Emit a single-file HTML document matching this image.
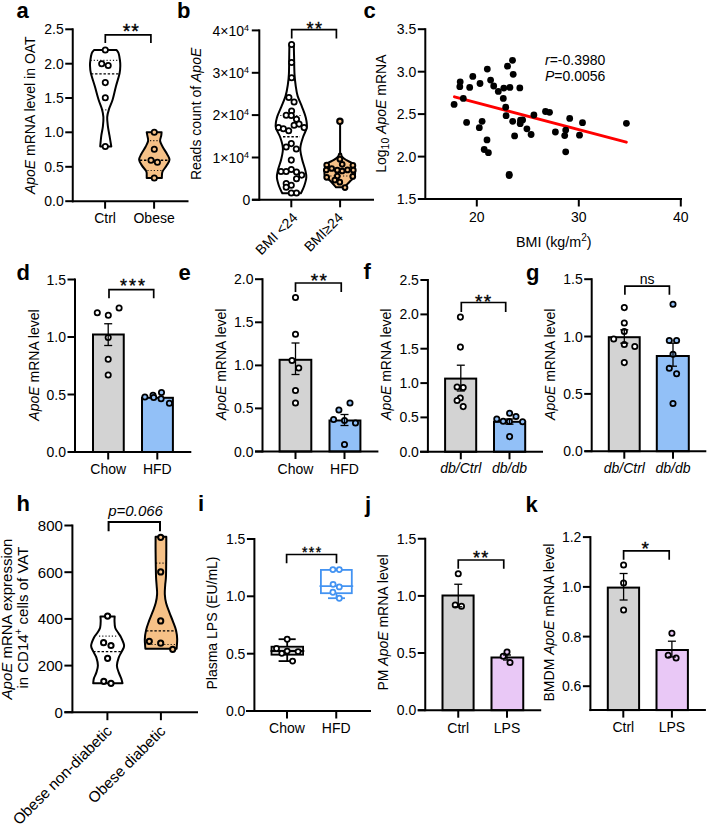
<!DOCTYPE html>
<html><head><meta charset="utf-8"><style>
html,body{margin:0;padding:0;background:#fff;overflow:hidden;width:708px;height:827px;}
svg{display:block;}
text{font-family:"Liberation Sans", sans-serif;}
</style></head><body>
<svg width="708" height="827" viewBox="0 0 708 827">
<rect width="708" height="827" fill="#fff"/>
<text x="16.5" y="17.5" font-size="22" text-anchor="start" font-weight="bold" font-style="normal" fill="#000" >a</text>
<line x1="72.75" y1="28.3" x2="72.75" y2="202.3" stroke="#000" stroke-width="2" />
<line x1="65.25" y1="29.3" x2="72.75" y2="29.3" stroke="#000" stroke-width="2" />
<text x="63.75" y="34.34" font-size="14" text-anchor="end" font-weight="normal" font-style="normal" fill="#000" >2.5</text>
<line x1="65.25" y1="63.7" x2="72.75" y2="63.7" stroke="#000" stroke-width="2" />
<text x="63.75" y="68.74" font-size="14" text-anchor="end" font-weight="normal" font-style="normal" fill="#000" >2.0</text>
<line x1="65.25" y1="98" x2="72.75" y2="98" stroke="#000" stroke-width="2" />
<text x="63.75" y="103.04" font-size="14" text-anchor="end" font-weight="normal" font-style="normal" fill="#000" >1.5</text>
<line x1="65.25" y1="132.3" x2="72.75" y2="132.3" stroke="#000" stroke-width="2" />
<text x="63.75" y="137.34" font-size="14" text-anchor="end" font-weight="normal" font-style="normal" fill="#000" >1.0</text>
<line x1="65.25" y1="166.8" x2="72.75" y2="166.8" stroke="#000" stroke-width="2" />
<text x="63.75" y="171.84" font-size="14" text-anchor="end" font-weight="normal" font-style="normal" fill="#000" >0.5</text>
<line x1="65.25" y1="201.2" x2="72.75" y2="201.2" stroke="#000" stroke-width="2" />
<text x="63.75" y="206.24" font-size="14" text-anchor="end" font-weight="normal" font-style="normal" fill="#000" >0.0</text>
<line x1="72" y1="201.2" x2="188.5" y2="201.2" stroke="#000" stroke-width="2" />
<line x1="105.1" y1="201.2" x2="105.1" y2="208.7" stroke="#000" stroke-width="2" />
<line x1="154.1" y1="201.2" x2="154.1" y2="208.7" stroke="#000" stroke-width="2" />
<text x="105.1" y="223" font-size="14" text-anchor="middle" font-weight="normal" font-style="normal" fill="#000" >Ctrl</text>
<text x="154.1" y="223" font-size="14" text-anchor="middle" font-weight="normal" font-style="normal" fill="#000" >Obese</text>
<text x="35.2" y="115.2" font-size="14" text-anchor="middle" font-weight="normal" font-style="normal" fill="#000" transform="rotate(-90 35.2 115.2)" ><tspan font-style="italic">ApoE</tspan> mRNA level in OAT</text>
<path d="M116.6,50 L94,50 C93.62,50.55 92.3,51.63 91.7,53.3 C91.1,54.97 90.68,58 90.4,60 C90.12,62 89.92,63.1 90,65.3 C90.08,67.5 90.08,69.67 90.9,73.2 C91.72,76.73 93.62,82.07 94.9,86.5 C96.18,90.93 97.43,96.03 98.6,99.8 C99.77,103.57 101.1,106.22 101.9,109.1 C102.7,111.98 103.23,114.22 103.4,117.1 C103.57,119.98 103.25,123.3 102.9,126.4 C102.55,129.5 101.75,132.37 101.3,135.7 C100.85,139.03 100.38,144.62 100.2,146.4 L111.3,146.4 C111,144.62 110.07,139.03 109.5,135.7 C108.93,132.37 108.28,129.5 107.9,126.4 C107.52,123.3 107.02,119.98 107.2,117.1 C107.38,114.22 108.1,111.98 109,109.1 C109.9,106.22 111.45,103.57 112.6,99.8 C113.75,96.03 114.73,90.93 115.9,86.5 C117.07,82.07 118.87,76.73 119.6,73.2 C120.33,69.67 120.25,67.5 120.3,65.3 C120.35,63.1 120.18,62 119.9,60 C119.62,58 119.15,54.97 118.6,53.3 C118.05,51.63 116.93,50.55 116.6,50 Z" fill="#fff" stroke="#000" stroke-width="2" stroke-linejoin="round"/>
<line x1="90.5" y1="60.3" x2="119.9" y2="60.3" stroke="#000" stroke-width="1.2" stroke-dasharray="1.2,2" opacity="0.85"/>
<line x1="90.9" y1="73.9" x2="119.6" y2="73.9" stroke="#000" stroke-width="1.4" stroke-dasharray="2.4,1.8" opacity="1"/>
<line x1="102" y1="109.8" x2="109" y2="109.8" stroke="#000" stroke-width="1.2" stroke-dasharray="1.2,2" opacity="0.85"/>
<circle cx="105.3" cy="50" r="2.65" fill="#fff" stroke="#000" stroke-width="1.75"/>
<circle cx="101.7" cy="63.7" r="2.65" fill="#fff" stroke="#000" stroke-width="1.75"/>
<circle cx="108.2" cy="65.5" r="2.65" fill="#fff" stroke="#000" stroke-width="1.75"/>
<circle cx="105.3" cy="82.6" r="2.65" fill="#fff" stroke="#000" stroke-width="1.75"/>
<circle cx="105.3" cy="97.8" r="2.65" fill="#fff" stroke="#000" stroke-width="1.75"/>
<circle cx="105.3" cy="146.4" r="2.65" fill="#fff" stroke="#000" stroke-width="1.75"/>
<path d="M161.6,132.3 L146.7,132.3 C146.82,132.9 147.17,134.45 147.4,135.9 C147.63,137.35 148.4,139.18 148.1,141 C147.8,142.82 146.73,144.63 145.6,146.8 C144.47,148.97 142.38,151.83 141.3,154 C140.22,156.17 138.98,157.87 139.1,159.8 C139.22,161.73 140.8,163.67 142,165.6 C143.2,167.53 145.52,169.7 146.3,171.4 C147.08,173.1 146.63,174.72 146.7,175.8 C146.77,176.88 146.7,177.55 146.7,177.9 L161.9,177.9 C161.9,177.55 161.78,176.88 161.9,175.8 C162.02,174.72 161.82,173.1 162.6,171.4 C163.38,169.7 165.45,167.53 166.6,165.6 C167.75,163.67 169.43,161.73 169.5,159.8 C169.57,157.87 168.15,156.17 167,154 C165.85,151.83 163.75,148.97 162.6,146.8 C161.45,144.63 160.33,142.82 160.1,141 C159.87,139.18 160.95,137.35 161.2,135.9 C161.45,134.45 161.53,132.9 161.6,132.3 Z" fill="#F6C187" stroke="#000" stroke-width="2" stroke-linejoin="round"/>
<line x1="150" y1="140.6" x2="159.4" y2="140.6" stroke="#000" stroke-width="1.2" stroke-dasharray="1.2,2" opacity="0.85"/>
<line x1="139.8" y1="160.2" x2="167.4" y2="160.2" stroke="#000" stroke-width="1.4" stroke-dasharray="2.4,1.8" opacity="1"/>
<line x1="147.4" y1="170.5" x2="161.6" y2="170.5" stroke="#000" stroke-width="1.2" stroke-dasharray="1.2,2" opacity="0.85"/>
<circle cx="154.3" cy="132.3" r="2.65" fill="#F6C187" stroke="#000" stroke-width="1.75"/>
<circle cx="154.3" cy="149.3" r="2.65" fill="#F6C187" stroke="#000" stroke-width="1.75"/>
<circle cx="151" cy="160.2" r="2.65" fill="#F6C187" stroke="#000" stroke-width="1.75"/>
<circle cx="157.4" cy="162.3" r="2.65" fill="#F6C187" stroke="#000" stroke-width="1.75"/>
<circle cx="154.3" cy="177.9" r="2.65" fill="#F6C187" stroke="#000" stroke-width="1.75"/>
<polyline points="105.3,43.1 105.3,34.9 150.9,34.9 150.9,43.1" fill="none" stroke="#000" stroke-width="1.7" stroke-linejoin="miter" />
<text x="131.3" y="38.4" font-size="19.5" text-anchor="middle" letter-spacing="1" stroke="#000" stroke-width="0.35">**</text>
<text x="177" y="17.8" font-size="22" text-anchor="start" font-weight="bold" font-style="normal" fill="#000" >b</text>
<line x1="259.3" y1="29.4" x2="259.3" y2="200.8" stroke="#000" stroke-width="2" />
<line x1="251.8" y1="30.4" x2="259.3" y2="30.4" stroke="#000" stroke-width="2" />
<line x1="251.8" y1="72.8" x2="259.3" y2="72.8" stroke="#000" stroke-width="2" />
<line x1="251.8" y1="115.1" x2="259.3" y2="115.1" stroke="#000" stroke-width="2" />
<line x1="251.8" y1="157.5" x2="259.3" y2="157.5" stroke="#000" stroke-width="2" />
<line x1="251.8" y1="199.8" x2="259.3" y2="199.8" stroke="#000" stroke-width="2" />
<text x="250.3" y="204.84" font-size="14" text-anchor="end" font-weight="normal" font-style="normal" fill="#000" >0</text>
<text x="212.5" y="35.5" font-size="14" text-anchor="start" font-weight="normal" font-style="normal" fill="#000" >4×10<tspan font-size="9" dy="-5">4</tspan></text>
<text x="212.5" y="77.9" font-size="14" text-anchor="start" font-weight="normal" font-style="normal" fill="#000" >3×10<tspan font-size="9" dy="-5">4</tspan></text>
<text x="212.5" y="120.2" font-size="14" text-anchor="start" font-weight="normal" font-style="normal" fill="#000" >2×10<tspan font-size="9" dy="-5">4</tspan></text>
<text x="212.5" y="162.6" font-size="14" text-anchor="start" font-weight="normal" font-style="normal" fill="#000" >1×10<tspan font-size="9" dy="-5">4</tspan></text>
<line x1="252" y1="199.8" x2="374" y2="199.8" stroke="#000" stroke-width="2" />
<line x1="291.3" y1="199.8" x2="291.3" y2="207.3" stroke="#000" stroke-width="2" />
<line x1="340.1" y1="199.8" x2="340.1" y2="207.3" stroke="#000" stroke-width="2" />
<text x="201.3" y="113.9" font-size="14" text-anchor="middle" font-weight="normal" font-style="normal" fill="#000" transform="rotate(-90 201.3 113.9)" >Reads count of <tspan font-style="italic">ApoE</tspan></text>
<text x="298.5" y="218.5" font-size="14" text-anchor="end" font-weight="normal" font-style="normal" fill="#000" transform="rotate(-45 298.5 218.5)" >BMI &lt;24</text>
<text x="344" y="218.5" font-size="14" text-anchor="end" font-weight="normal" font-style="normal" fill="#000" transform="rotate(-45 344 218.5)" >BMI≥24</text>
<path d="M293.8,44.5 L289.4,44.5 C289.37,46.72 289.28,52.87 289.2,57.8 C289.12,62.73 289.13,69.57 288.9,74.1 C288.67,78.63 288.35,81.37 287.8,85 C287.25,88.63 286.68,92.27 285.6,95.9 C284.52,99.53 282.75,103.17 281.3,106.8 C279.85,110.43 277.82,114.27 276.9,117.7 C275.98,121.13 275.25,124.15 275.8,127.4 C276.35,130.65 279.02,133.75 280.2,137.2 C281.38,140.65 282.72,144.47 282.9,148.1 C283.08,151.73 282.12,155.37 281.3,159 C280.48,162.63 278.73,166.82 278,169.9 C277.27,172.98 276.72,174.77 276.9,177.5 C277.08,180.23 278.2,183.67 279.1,186.3 C280,188.93 281.77,192.13 282.3,193.3 L300.9,193.3 C301.43,192.13 303.2,188.93 304.1,186.3 C305,183.67 306.12,180.23 306.3,177.5 C306.48,174.77 305.92,172.98 305.2,169.9 C304.48,166.82 302.82,162.63 302,159 C301.18,155.37 300.13,151.73 300.3,148.1 C300.47,144.47 301.92,140.65 303,137.2 C304.08,133.75 306.33,130.65 306.8,127.4 C307.27,124.15 306.6,121.13 305.8,117.7 C305,114.27 303.37,110.43 302,106.8 C300.63,103.17 298.67,99.53 297.6,95.9 C296.53,92.27 296.12,88.63 295.6,85 C295.08,81.37 294.75,78.63 294.5,74.1 C294.25,69.57 294.22,62.73 294.1,57.8 C293.98,52.87 293.85,46.72 293.8,44.5 Z" fill="#fff" stroke="#000" stroke-width="2" stroke-linejoin="round"/>
<line x1="280.2" y1="115.5" x2="302" y2="115.5" stroke="#000" stroke-width="1.2" stroke-dasharray="1.2,2" opacity="0.85"/>
<line x1="283" y1="136.7" x2="300" y2="136.7" stroke="#000" stroke-width="1.4" stroke-dasharray="2.4,1.8" opacity="1"/>
<circle cx="291.6" cy="44.5" r="2.65" fill="#fff" stroke="#000" stroke-width="1.75"/>
<circle cx="291.6" cy="62.5" r="2.65" fill="#fff" stroke="#000" stroke-width="1.75"/>
<circle cx="291.6" cy="77.7" r="2.65" fill="#fff" stroke="#000" stroke-width="1.75"/>
<circle cx="288.9" cy="97.5" r="2.65" fill="#fff" stroke="#000" stroke-width="1.75"/>
<circle cx="294.1" cy="101.9" r="2.65" fill="#fff" stroke="#000" stroke-width="1.75"/>
<circle cx="291.6" cy="110.9" r="2.65" fill="#fff" stroke="#000" stroke-width="1.75"/>
<circle cx="286.2" cy="115.3" r="2.65" fill="#fff" stroke="#000" stroke-width="1.75"/>
<circle cx="291.3" cy="115.4" r="2.65" fill="#fff" stroke="#000" stroke-width="1.75"/>
<circle cx="296.5" cy="119.3" r="2.65" fill="#fff" stroke="#000" stroke-width="1.75"/>
<circle cx="294.1" cy="125.3" r="2.65" fill="#fff" stroke="#000" stroke-width="1.75"/>
<circle cx="299.1" cy="124.1" r="2.65" fill="#fff" stroke="#000" stroke-width="1.75"/>
<circle cx="278.5" cy="127.6" r="2.65" fill="#fff" stroke="#000" stroke-width="1.75"/>
<circle cx="283.4" cy="128.7" r="2.65" fill="#fff" stroke="#000" stroke-width="1.75"/>
<circle cx="288.7" cy="130.7" r="2.65" fill="#fff" stroke="#000" stroke-width="1.75"/>
<circle cx="304.1" cy="127.6" r="2.65" fill="#fff" stroke="#000" stroke-width="1.75"/>
<circle cx="291.3" cy="143.6" r="2.65" fill="#fff" stroke="#000" stroke-width="1.75"/>
<circle cx="286.2" cy="147" r="2.65" fill="#fff" stroke="#000" stroke-width="1.75"/>
<circle cx="296.3" cy="149" r="2.65" fill="#fff" stroke="#000" stroke-width="1.75"/>
<circle cx="291.3" cy="160.1" r="2.65" fill="#fff" stroke="#000" stroke-width="1.75"/>
<circle cx="281" cy="171.5" r="2.65" fill="#fff" stroke="#000" stroke-width="1.75"/>
<circle cx="286.2" cy="171.5" r="2.65" fill="#fff" stroke="#000" stroke-width="1.75"/>
<circle cx="291.3" cy="169.4" r="2.65" fill="#fff" stroke="#000" stroke-width="1.75"/>
<circle cx="296.5" cy="171.9" r="2.65" fill="#fff" stroke="#000" stroke-width="1.75"/>
<circle cx="301.7" cy="175.1" r="2.65" fill="#fff" stroke="#000" stroke-width="1.75"/>
<circle cx="296.5" cy="178.8" r="2.65" fill="#fff" stroke="#000" stroke-width="1.75"/>
<circle cx="286.2" cy="183.5" r="2.65" fill="#fff" stroke="#000" stroke-width="1.75"/>
<circle cx="291.3" cy="185.2" r="2.65" fill="#fff" stroke="#000" stroke-width="1.75"/>
<circle cx="286.2" cy="187.3" r="2.65" fill="#fff" stroke="#000" stroke-width="1.75"/>
<circle cx="291.3" cy="193" r="2.65" fill="#fff" stroke="#000" stroke-width="1.75"/>
<circle cx="296.5" cy="193" r="2.65" fill="#fff" stroke="#000" stroke-width="1.75"/>
<line x1="340.1" y1="121" x2="340.1" y2="155" stroke="#000" stroke-width="2" />
<path d="M341.1,153.8 L339.1,153.8 C338.88,154.33 338.73,155.93 337.8,157 C336.87,158.07 335.3,159.1 333.5,160.2 C331.7,161.3 328.42,162.3 327,163.6 C325.58,164.9 325.37,165.92 325,168 C324.63,170.08 323.9,173.93 324.8,176.1 C325.7,178.27 328.53,179.13 330.4,181 C332.27,182.87 335.07,186.25 336,187.3 L344.1,187.3 C345.13,186.25 348.53,182.87 350.3,181 C352.07,179.13 353.98,178.27 354.7,176.1 C355.42,173.93 354.95,170.08 354.6,168 C354.25,165.92 353.95,164.9 352.6,163.6 C351.25,162.3 348.23,161.3 346.5,160.2 C344.77,159.1 343.1,158.07 342.2,157 C341.3,155.93 341.28,154.33 341.1,153.8 Z" fill="#F6C187" stroke="#000" stroke-width="2" stroke-linejoin="round"/>
<line x1="333" y1="169" x2="347" y2="169" stroke="#000" stroke-width="1.2" stroke-dasharray="1.2,2" opacity="0.85"/>
<line x1="327" y1="176" x2="352" y2="176" stroke="#000" stroke-width="1.2" stroke-dasharray="1.2,2" opacity="0.85"/>
<circle cx="339.9" cy="121.3" r="2.7" fill="#F6C187" stroke="#000" stroke-width="2.1"/>
<circle cx="339.9" cy="159.2" r="2.35" fill="#F6C187" stroke="#000" stroke-width="2.0"/>
<circle cx="326.7" cy="165" r="2.35" fill="#F6C187" stroke="#000" stroke-width="2.0"/>
<circle cx="342.2" cy="164.3" r="2.35" fill="#F6C187" stroke="#000" stroke-width="2.0"/>
<circle cx="352.9" cy="165.4" r="2.35" fill="#F6C187" stroke="#000" stroke-width="2.0"/>
<circle cx="326.3" cy="170" r="2.35" fill="#F6C187" stroke="#000" stroke-width="2.0"/>
<circle cx="353.3" cy="170.2" r="2.35" fill="#F6C187" stroke="#000" stroke-width="2.0"/>
<circle cx="331.7" cy="168.5" r="2.35" fill="#F6C187" stroke="#000" stroke-width="2.0"/>
<circle cx="337.3" cy="170.2" r="2.35" fill="#F6C187" stroke="#000" stroke-width="2.0"/>
<circle cx="342.2" cy="171" r="2.35" fill="#F6C187" stroke="#000" stroke-width="2.0"/>
<circle cx="347.5" cy="169.9" r="2.35" fill="#F6C187" stroke="#000" stroke-width="2.0"/>
<circle cx="326.7" cy="177.3" r="2.35" fill="#F6C187" stroke="#000" stroke-width="2.0"/>
<circle cx="337.3" cy="176.1" r="2.35" fill="#F6C187" stroke="#000" stroke-width="2.0"/>
<circle cx="334.8" cy="180.1" r="2.35" fill="#F6C187" stroke="#000" stroke-width="2.0"/>
<circle cx="339.8" cy="182.2" r="2.35" fill="#F6C187" stroke="#000" stroke-width="2.0"/>
<circle cx="352.8" cy="176.4" r="2.35" fill="#F6C187" stroke="#000" stroke-width="2.0"/>
<circle cx="345" cy="187.6" r="2.35" fill="#F6C187" stroke="#000" stroke-width="2.0"/>
<polyline points="291.7,38.4 291.7,29.6 336.4,29.6 336.4,38.4" fill="none" stroke="#000" stroke-width="1.7" stroke-linejoin="miter" />
<text x="315" y="34.5" font-size="18" text-anchor="middle" letter-spacing="1.5" stroke="#000" stroke-width="0.35">**</text>
<text x="363.5" y="17.8" font-size="22" text-anchor="start" font-weight="bold" font-style="normal" fill="#000" >c</text>
<line x1="425.3" y1="28.2" x2="425.3" y2="200" stroke="#000" stroke-width="2" />
<line x1="417.8" y1="29.2" x2="425.3" y2="29.2" stroke="#000" stroke-width="2" />
<text x="416.3" y="34.24" font-size="14" text-anchor="end" font-weight="normal" font-style="normal" fill="#000" >3.5</text>
<line x1="417.8" y1="71.7" x2="425.3" y2="71.7" stroke="#000" stroke-width="2" />
<text x="416.3" y="76.74" font-size="14" text-anchor="end" font-weight="normal" font-style="normal" fill="#000" >3.0</text>
<line x1="417.8" y1="114.1" x2="425.3" y2="114.1" stroke="#000" stroke-width="2" />
<text x="416.3" y="119.14" font-size="14" text-anchor="end" font-weight="normal" font-style="normal" fill="#000" >2.5</text>
<line x1="417.8" y1="156.6" x2="425.3" y2="156.6" stroke="#000" stroke-width="2" />
<text x="416.3" y="161.64" font-size="14" text-anchor="end" font-weight="normal" font-style="normal" fill="#000" >2.0</text>
<line x1="417.8" y1="199" x2="425.3" y2="199" stroke="#000" stroke-width="2" />
<text x="416.3" y="204.04" font-size="14" text-anchor="end" font-weight="normal" font-style="normal" fill="#000" >1.5</text>
<line x1="418" y1="199" x2="682" y2="199" stroke="#000" stroke-width="2" />
<line x1="476.8" y1="199" x2="476.8" y2="206.5" stroke="#000" stroke-width="2" />
<line x1="578.8" y1="199" x2="578.8" y2="206.5" stroke="#000" stroke-width="2" />
<line x1="680.8" y1="199" x2="680.8" y2="206.5" stroke="#000" stroke-width="2" />
<text x="476.8" y="221.8" font-size="14" text-anchor="middle" font-weight="normal" font-style="normal" fill="#000" >20</text>
<text x="578.8" y="221.8" font-size="14" text-anchor="middle" font-weight="normal" font-style="normal" fill="#000" >30</text>
<text x="680.8" y="221.8" font-size="14" text-anchor="middle" font-weight="normal" font-style="normal" fill="#000" >40</text>
<text x="516" y="246.5" font-size="14.3" text-anchor="start" font-weight="normal" font-style="normal" fill="#000" >BMI (kg/m<tspan font-size="10" dy="-6">2</tspan><tspan dy="6">)</tspan></text>
<text x="385.8" y="113.6" font-size="14" text-anchor="middle" font-weight="normal" font-style="normal" fill="#000" transform="rotate(-90 385.8 113.6)" >Log<tspan font-size="10.5" dy="3.5">10</tspan><tspan dy="-3.5"> </tspan><tspan font-style="italic">ApoE</tspan> mRNA</text>
<text x="545" y="64.5" font-size="14" text-anchor="start" font-weight="normal" font-style="normal" fill="#000" ><tspan font-style="italic">r</tspan>=-0.3980</text>
<text x="545" y="81.1" font-size="14" text-anchor="start" font-weight="normal" font-style="normal" fill="#000" ><tspan font-style="italic">P</tspan>=0.0056</text>
<line x1="454.5" y1="96.9" x2="626.3" y2="142.1" stroke="#FF0000" stroke-width="3" stroke-linecap="round"/>
<circle cx="454.1" cy="104.4" r="3.4" fill="#000"/>
<circle cx="460.2" cy="81.8" r="3.4" fill="#000"/>
<circle cx="459.8" cy="86.7" r="3.4" fill="#000"/>
<circle cx="463.3" cy="98.4" r="3.4" fill="#000"/>
<circle cx="469.7" cy="87.4" r="3.4" fill="#000"/>
<circle cx="472.8" cy="76.4" r="3.4" fill="#000"/>
<circle cx="480" cy="83.5" r="3.4" fill="#000"/>
<circle cx="487.3" cy="69.1" r="3.4" fill="#000"/>
<circle cx="490.6" cy="80.1" r="3.4" fill="#000"/>
<circle cx="493.7" cy="86" r="3.4" fill="#000"/>
<circle cx="498.3" cy="91.4" r="3.4" fill="#000"/>
<circle cx="503.8" cy="88.1" r="3.4" fill="#000"/>
<circle cx="509.9" cy="87.4" r="3.4" fill="#000"/>
<circle cx="507.5" cy="66.2" r="3.4" fill="#000"/>
<circle cx="512.5" cy="60.3" r="3.4" fill="#000"/>
<circle cx="513.2" cy="74.3" r="3.4" fill="#000"/>
<circle cx="519.8" cy="87.9" r="3.4" fill="#000"/>
<circle cx="503.3" cy="98.4" r="3.4" fill="#000"/>
<circle cx="505.7" cy="107.2" r="3.4" fill="#000"/>
<circle cx="506.1" cy="115.7" r="3.4" fill="#000"/>
<circle cx="512.7" cy="121.3" r="3.4" fill="#000"/>
<circle cx="520.5" cy="120.2" r="3.4" fill="#000"/>
<circle cx="522.6" cy="119.9" r="3.4" fill="#000"/>
<circle cx="520.2" cy="123.7" r="3.4" fill="#000"/>
<circle cx="526.9" cy="128.8" r="3.4" fill="#000"/>
<circle cx="531.1" cy="134.5" r="3.4" fill="#000"/>
<circle cx="514.6" cy="135.9" r="3.4" fill="#000"/>
<circle cx="533.9" cy="115" r="3.4" fill="#000"/>
<circle cx="466.6" cy="122.4" r="3.4" fill="#000"/>
<circle cx="482.1" cy="121.3" r="3.4" fill="#000"/>
<circle cx="479.3" cy="127.7" r="3.4" fill="#000"/>
<circle cx="487" cy="139.9" r="3.4" fill="#000"/>
<circle cx="484.2" cy="149.5" r="3.4" fill="#000"/>
<circle cx="488.4" cy="152.7" r="3.4" fill="#000"/>
<circle cx="509.2" cy="174.3" r="3.4" fill="#000"/>
<circle cx="509.2" cy="175.6" r="3.4" fill="#000"/>
<circle cx="545.5" cy="111.5" r="3.4" fill="#000"/>
<circle cx="549.5" cy="112.3" r="3.4" fill="#000"/>
<circle cx="569.7" cy="118.4" r="3.4" fill="#000"/>
<circle cx="582.5" cy="122.7" r="3.4" fill="#000"/>
<circle cx="626.4" cy="123.3" r="3.4" fill="#000"/>
<circle cx="555.4" cy="132" r="3.4" fill="#000"/>
<circle cx="565.7" cy="130.1" r="3.4" fill="#000"/>
<circle cx="564.7" cy="135.6" r="3.4" fill="#000"/>
<circle cx="579.5" cy="135.2" r="3.4" fill="#000"/>
<circle cx="565.7" cy="151.8" r="3.4" fill="#000"/>
<text x="16.5" y="280" font-size="22" text-anchor="start" font-weight="bold" font-style="normal" fill="#000" >d</text>
<line x1="75" y1="278.5" x2="75" y2="453" stroke="#000" stroke-width="2" />
<line x1="67.5" y1="279.5" x2="75" y2="279.5" stroke="#000" stroke-width="2" />
<text x="66" y="284.54" font-size="14" text-anchor="end" font-weight="normal" font-style="normal" fill="#000" >1.5</text>
<line x1="67.5" y1="337" x2="75" y2="337" stroke="#000" stroke-width="2" />
<text x="66" y="342.04" font-size="14" text-anchor="end" font-weight="normal" font-style="normal" fill="#000" >1.0</text>
<line x1="67.5" y1="394.5" x2="75" y2="394.5" stroke="#000" stroke-width="2" />
<text x="66" y="399.54" font-size="14" text-anchor="end" font-weight="normal" font-style="normal" fill="#000" >0.5</text>
<line x1="67.5" y1="452" x2="75" y2="452" stroke="#000" stroke-width="2" />
<text x="66" y="457.04" font-size="14" text-anchor="end" font-weight="normal" font-style="normal" fill="#000" >0.0</text>
<rect x="93" y="334.5" width="30.75" height="117.5" fill="#D3D3D3" stroke="#000" stroke-width="2"/>
<rect x="142" y="397.8" width="30.9" height="54.2" fill="#92C0F7" stroke="#000" stroke-width="2"/>
<line x1="68" y1="452" x2="191.3" y2="452" stroke="#000" stroke-width="2" />
<line x1="108.2" y1="452" x2="108.2" y2="459.5" stroke="#000" stroke-width="2" />
<line x1="157.3" y1="452" x2="157.3" y2="459.5" stroke="#000" stroke-width="2" />
<circle cx="97.3" cy="312.8" r="2.65" fill="#fff" stroke="#000" stroke-width="1.75"/>
<circle cx="108.3" cy="315.2" r="2.65" fill="#fff" stroke="#000" stroke-width="1.75"/>
<circle cx="119.1" cy="307.9" r="2.65" fill="#fff" stroke="#000" stroke-width="1.75"/>
<circle cx="108.2" cy="337.5" r="2.65" fill="#fff" stroke="#000" stroke-width="1.75"/>
<circle cx="108.2" cy="359.25" r="2.65" fill="#fff" stroke="#000" stroke-width="1.75"/>
<circle cx="108.2" cy="375" r="2.65" fill="#fff" stroke="#000" stroke-width="1.75"/>
<circle cx="144.9" cy="396.9" r="2.65" fill="#92C0F7" stroke="#000" stroke-width="1.75"/>
<circle cx="153" cy="395.2" r="2.65" fill="#92C0F7" stroke="#000" stroke-width="1.75"/>
<circle cx="153.7" cy="397.5" r="2.65" fill="#92C0F7" stroke="#000" stroke-width="1.75"/>
<circle cx="161.5" cy="392.4" r="2.65" fill="#92C0F7" stroke="#000" stroke-width="1.75"/>
<circle cx="161.1" cy="398.7" r="2.65" fill="#92C0F7" stroke="#000" stroke-width="1.75"/>
<circle cx="169.4" cy="403.3" r="2.65" fill="#92C0F7" stroke="#000" stroke-width="1.75"/>
<line x1="108.2" y1="323.75" x2="108.2" y2="345.5" stroke="#000" stroke-width="1.3" />
<line x1="104.2" y1="323.75" x2="112.2" y2="323.75" stroke="#000" stroke-width="1.3" />
<line x1="104.2" y1="345.5" x2="112.2" y2="345.5" stroke="#000" stroke-width="1.3" />
<polyline points="109,298.2 109,289.7 153.7,289.7 153.7,298.2" fill="none" stroke="#000" stroke-width="1.7" stroke-linejoin="miter" />
<text x="133.5" y="291.5" font-size="18" text-anchor="middle" letter-spacing="2" stroke="#000" stroke-width="0.35">***</text>
<text x="108.2" y="473.75" font-size="14" text-anchor="middle" font-weight="normal" font-style="normal" fill="#000" >Chow</text>
<text x="157.3" y="473.75" font-size="14" text-anchor="middle" font-weight="normal" font-style="normal" fill="#000" >HFD</text>
<text x="38.75" y="365" font-size="14" text-anchor="middle" font-weight="normal" font-style="normal" fill="#000" transform="rotate(-90 38.75 365)" ><tspan font-style="italic">ApoE</tspan> mRNA level</text>
<text x="178.5" y="280" font-size="22" text-anchor="start" font-weight="bold" font-style="normal" fill="#000" >e</text>
<line x1="262.5" y1="278.2" x2="262.5" y2="452.5" stroke="#000" stroke-width="2" />
<line x1="255" y1="279.2" x2="262.5" y2="279.2" stroke="#000" stroke-width="2" />
<text x="253.5" y="284.24" font-size="14" text-anchor="end" font-weight="normal" font-style="normal" fill="#000" >2.0</text>
<line x1="255" y1="322.3" x2="262.5" y2="322.3" stroke="#000" stroke-width="2" />
<text x="253.5" y="327.34" font-size="14" text-anchor="end" font-weight="normal" font-style="normal" fill="#000" >1.5</text>
<line x1="255" y1="365.4" x2="262.5" y2="365.4" stroke="#000" stroke-width="2" />
<text x="253.5" y="370.44" font-size="14" text-anchor="end" font-weight="normal" font-style="normal" fill="#000" >1.0</text>
<line x1="255" y1="408.4" x2="262.5" y2="408.4" stroke="#000" stroke-width="2" />
<text x="253.5" y="413.44" font-size="14" text-anchor="end" font-weight="normal" font-style="normal" fill="#000" >0.5</text>
<line x1="255" y1="451.5" x2="262.5" y2="451.5" stroke="#000" stroke-width="2" />
<text x="253.5" y="456.54" font-size="14" text-anchor="end" font-weight="normal" font-style="normal" fill="#000" >0.0</text>
<rect x="279.6" y="359.8" width="31.7" height="91.7" fill="#D3D3D3" stroke="#000" stroke-width="2"/>
<rect x="329.5" y="420.5" width="30.9" height="31" fill="#92C0F7" stroke="#000" stroke-width="2"/>
<line x1="255" y1="451.5" x2="378.4" y2="451.5" stroke="#000" stroke-width="2" />
<line x1="295.5" y1="451.5" x2="295.5" y2="459" stroke="#000" stroke-width="2" />
<line x1="344.5" y1="451.5" x2="344.5" y2="459" stroke="#000" stroke-width="2" />
<circle cx="295.5" cy="297.5" r="2.65" fill="#fff" stroke="#000" stroke-width="1.75"/>
<circle cx="295.5" cy="334.25" r="2.65" fill="#fff" stroke="#000" stroke-width="1.75"/>
<circle cx="292" cy="360.5" r="2.65" fill="#fff" stroke="#000" stroke-width="1.75"/>
<circle cx="298.75" cy="368" r="2.65" fill="#fff" stroke="#000" stroke-width="1.75"/>
<circle cx="295.5" cy="390.5" r="2.65" fill="#fff" stroke="#000" stroke-width="1.75"/>
<circle cx="295.5" cy="403" r="2.65" fill="#fff" stroke="#000" stroke-width="1.75"/>
<circle cx="338.9" cy="409.9" r="2.65" fill="#92C0F7" stroke="#000" stroke-width="1.75"/>
<circle cx="350" cy="403" r="2.65" fill="#92C0F7" stroke="#000" stroke-width="1.75"/>
<circle cx="333.6" cy="419.5" r="2.65" fill="#92C0F7" stroke="#000" stroke-width="1.75"/>
<circle cx="344.5" cy="420.5" r="2.65" fill="#92C0F7" stroke="#000" stroke-width="1.75"/>
<circle cx="355.5" cy="423" r="2.65" fill="#92C0F7" stroke="#000" stroke-width="1.75"/>
<circle cx="344.5" cy="444.5" r="2.65" fill="#92C0F7" stroke="#000" stroke-width="1.75"/>
<line x1="295.5" y1="343" x2="295.5" y2="374.5" stroke="#000" stroke-width="1.3" />
<line x1="291.5" y1="343" x2="299.5" y2="343" stroke="#000" stroke-width="1.3" />
<line x1="291.5" y1="374.5" x2="299.5" y2="374.5" stroke="#000" stroke-width="1.3" />
<line x1="344.5" y1="414.5" x2="344.5" y2="425.5" stroke="#000" stroke-width="1.3" />
<line x1="340.5" y1="414.5" x2="348.5" y2="414.5" stroke="#000" stroke-width="1.3" />
<line x1="340.5" y1="425.5" x2="348.5" y2="425.5" stroke="#000" stroke-width="1.3" />
<polyline points="295.5,292 295.5,283 341.25,283 341.25,292" fill="none" stroke="#000" stroke-width="1.7" stroke-linejoin="miter" />
<text x="319.4" y="287" font-size="19" text-anchor="middle" letter-spacing="1.3" stroke="#000" stroke-width="0.35">**</text>
<text x="295.5" y="473.75" font-size="14" text-anchor="middle" font-weight="normal" font-style="normal" fill="#000" >Chow</text>
<text x="344.5" y="473.75" font-size="14" text-anchor="middle" font-weight="normal" font-style="normal" fill="#000" >HFD</text>
<text x="225.6" y="364.3" font-size="14" text-anchor="middle" font-weight="normal" font-style="normal" fill="#000" transform="rotate(-90 225.6 364.3)" ><tspan font-style="italic">ApoE</tspan> mRNA level</text>
<text x="363.5" y="279.2" font-size="22" text-anchor="start" font-weight="bold" font-style="normal" fill="#000" >f</text>
<line x1="427.9" y1="279" x2="427.9" y2="452.8" stroke="#000" stroke-width="2" />
<line x1="420.4" y1="280" x2="427.9" y2="280" stroke="#000" stroke-width="2" />
<text x="418.9" y="285.04" font-size="14" text-anchor="end" font-weight="normal" font-style="normal" fill="#000" >2.5</text>
<line x1="420.4" y1="314.4" x2="427.9" y2="314.4" stroke="#000" stroke-width="2" />
<text x="418.9" y="319.44" font-size="14" text-anchor="end" font-weight="normal" font-style="normal" fill="#000" >2.0</text>
<line x1="420.4" y1="348.7" x2="427.9" y2="348.7" stroke="#000" stroke-width="2" />
<text x="418.9" y="353.74" font-size="14" text-anchor="end" font-weight="normal" font-style="normal" fill="#000" >1.5</text>
<line x1="420.4" y1="383.1" x2="427.9" y2="383.1" stroke="#000" stroke-width="2" />
<text x="418.9" y="388.14" font-size="14" text-anchor="end" font-weight="normal" font-style="normal" fill="#000" >1.0</text>
<line x1="420.4" y1="417.4" x2="427.9" y2="417.4" stroke="#000" stroke-width="2" />
<text x="418.9" y="422.44" font-size="14" text-anchor="end" font-weight="normal" font-style="normal" fill="#000" >0.5</text>
<line x1="420.4" y1="451.8" x2="427.9" y2="451.8" stroke="#000" stroke-width="2" />
<text x="418.9" y="456.84" font-size="14" text-anchor="end" font-weight="normal" font-style="normal" fill="#000" >0.0</text>
<rect x="445.1" y="378.6" width="31.1" height="73.2" fill="#D3D3D3" stroke="#000" stroke-width="2"/>
<rect x="494" y="421.8" width="31.2" height="30" fill="#92C0F7" stroke="#000" stroke-width="2"/>
<line x1="420" y1="451.8" x2="543" y2="451.8" stroke="#000" stroke-width="2" />
<line x1="460.8" y1="451.8" x2="460.8" y2="459.3" stroke="#000" stroke-width="2" />
<line x1="509.5" y1="451.8" x2="509.5" y2="459.3" stroke="#000" stroke-width="2" />
<circle cx="460.4" cy="317.1" r="2.65" fill="#fff" stroke="#000" stroke-width="1.75"/>
<circle cx="460.4" cy="347.1" r="2.65" fill="#fff" stroke="#000" stroke-width="1.75"/>
<circle cx="457.1" cy="387" r="2.65" fill="#fff" stroke="#000" stroke-width="1.75"/>
<circle cx="463.2" cy="387.5" r="2.65" fill="#fff" stroke="#000" stroke-width="1.75"/>
<circle cx="460.3" cy="397.9" r="2.65" fill="#fff" stroke="#000" stroke-width="1.75"/>
<circle cx="457.1" cy="400.4" r="2.65" fill="#fff" stroke="#000" stroke-width="1.75"/>
<circle cx="463.2" cy="406.6" r="2.65" fill="#fff" stroke="#000" stroke-width="1.75"/>
<circle cx="496.8" cy="419" r="2.65" fill="#92C0F7" stroke="#000" stroke-width="1.75"/>
<circle cx="503.2" cy="421.3" r="2.65" fill="#92C0F7" stroke="#000" stroke-width="1.75"/>
<circle cx="509.6" cy="413.3" r="2.65" fill="#92C0F7" stroke="#000" stroke-width="1.75"/>
<circle cx="516" cy="416.5" r="2.65" fill="#92C0F7" stroke="#000" stroke-width="1.75"/>
<circle cx="522.6" cy="421.8" r="2.65" fill="#92C0F7" stroke="#000" stroke-width="1.75"/>
<circle cx="509.4" cy="421.4" r="2.65" fill="#92C0F7" stroke="#000" stroke-width="1.75"/>
<circle cx="509.6" cy="436.6" r="2.65" fill="#92C0F7" stroke="#000" stroke-width="1.75"/>
<line x1="460.8" y1="365.2" x2="460.8" y2="391" stroke="#000" stroke-width="1.3" />
<line x1="456.8" y1="365.2" x2="464.8" y2="365.2" stroke="#000" stroke-width="1.3" />
<line x1="456.8" y1="391" x2="464.8" y2="391" stroke="#000" stroke-width="1.3" />
<line x1="509.5" y1="419" x2="509.5" y2="424.2" stroke="#000" stroke-width="1.3" />
<line x1="505.5" y1="419" x2="513.5" y2="419" stroke="#000" stroke-width="1.3" />
<line x1="505.5" y1="424.2" x2="513.5" y2="424.2" stroke="#000" stroke-width="1.3" />
<polyline points="461.3,311.9 461.3,302.5 505.7,302.5 505.7,311.9" fill="none" stroke="#000" stroke-width="1.7" stroke-linejoin="miter" />
<text x="483.7" y="308.1" font-size="19" text-anchor="middle" letter-spacing="1.3" stroke="#000" stroke-width="0.35">**</text>
<text x="460.8" y="473" font-size="14" text-anchor="middle" font-weight="normal" font-style="italic" fill="#000" >db/Ctrl</text>
<text x="509.5" y="473" font-size="14" text-anchor="middle" font-weight="normal" font-style="italic" fill="#000" >db/db</text>
<text x="390.6" y="364.3" font-size="14" text-anchor="middle" font-weight="normal" font-style="normal" fill="#000" transform="rotate(-90 390.6 364.3)" ><tspan font-style="italic">ApoE</tspan> mRNA level</text>
<text x="526" y="280" font-size="22" text-anchor="start" font-weight="bold" font-style="normal" fill="#000" >g</text>
<line x1="591.7" y1="278.2" x2="591.7" y2="452.2" stroke="#000" stroke-width="2" />
<line x1="584.2" y1="279.2" x2="591.7" y2="279.2" stroke="#000" stroke-width="2" />
<text x="582.7" y="284.24" font-size="14" text-anchor="end" font-weight="normal" font-style="normal" fill="#000" >1.5</text>
<line x1="584.2" y1="336.5" x2="591.7" y2="336.5" stroke="#000" stroke-width="2" />
<text x="582.7" y="341.54" font-size="14" text-anchor="end" font-weight="normal" font-style="normal" fill="#000" >1.0</text>
<line x1="584.2" y1="393.9" x2="591.7" y2="393.9" stroke="#000" stroke-width="2" />
<text x="582.7" y="398.94" font-size="14" text-anchor="end" font-weight="normal" font-style="normal" fill="#000" >0.5</text>
<line x1="584.2" y1="451.2" x2="591.7" y2="451.2" stroke="#000" stroke-width="2" />
<text x="582.7" y="456.24" font-size="14" text-anchor="end" font-weight="normal" font-style="normal" fill="#000" >0.0</text>
<rect x="608.8" y="337.2" width="30.9" height="114" fill="#D3D3D3" stroke="#000" stroke-width="2"/>
<rect x="656.8" y="356" width="32" height="95.2" fill="#92C0F7" stroke="#000" stroke-width="2"/>
<line x1="584.5" y1="451.2" x2="706.3" y2="451.2" stroke="#000" stroke-width="2" />
<line x1="624.3" y1="451.2" x2="624.3" y2="458.7" stroke="#000" stroke-width="2" />
<line x1="673" y1="451.2" x2="673" y2="458.7" stroke="#000" stroke-width="2" />
<circle cx="624.3" cy="307.6" r="2.65" fill="#fff" stroke="#000" stroke-width="1.75"/>
<circle cx="624.3" cy="322.9" r="2.65" fill="#fff" stroke="#000" stroke-width="1.75"/>
<circle cx="624.3" cy="331.5" r="2.65" fill="#fff" stroke="#000" stroke-width="1.75"/>
<circle cx="613.7" cy="339" r="2.65" fill="#fff" stroke="#000" stroke-width="1.75"/>
<circle cx="624.3" cy="344.5" r="2.65" fill="#fff" stroke="#000" stroke-width="1.75"/>
<circle cx="634.8" cy="346.5" r="2.65" fill="#fff" stroke="#000" stroke-width="1.75"/>
<circle cx="624.3" cy="362.6" r="2.65" fill="#fff" stroke="#000" stroke-width="1.75"/>
<circle cx="673" cy="304.2" r="2.65" fill="#92C0F7" stroke="#000" stroke-width="1.75"/>
<circle cx="669.3" cy="340.4" r="2.65" fill="#92C0F7" stroke="#000" stroke-width="1.75"/>
<circle cx="676.6" cy="340.4" r="2.65" fill="#92C0F7" stroke="#000" stroke-width="1.75"/>
<circle cx="673" cy="354.3" r="2.65" fill="#92C0F7" stroke="#000" stroke-width="1.75"/>
<circle cx="669.3" cy="368.2" r="2.65" fill="#92C0F7" stroke="#000" stroke-width="1.75"/>
<circle cx="676.6" cy="373.7" r="2.65" fill="#92C0F7" stroke="#000" stroke-width="1.75"/>
<circle cx="673" cy="403.5" r="2.65" fill="#92C0F7" stroke="#000" stroke-width="1.75"/>
<line x1="624.3" y1="329.8" x2="624.3" y2="343.2" stroke="#000" stroke-width="1.3" />
<line x1="620.3" y1="329.8" x2="628.3" y2="329.8" stroke="#000" stroke-width="1.3" />
<line x1="620.3" y1="343.2" x2="628.3" y2="343.2" stroke="#000" stroke-width="1.3" />
<line x1="673" y1="343.2" x2="673" y2="366.2" stroke="#000" stroke-width="1.3" />
<line x1="669" y1="343.2" x2="677" y2="343.2" stroke="#000" stroke-width="1.3" />
<line x1="669" y1="366.2" x2="677" y2="366.2" stroke="#000" stroke-width="1.3" />
<polyline points="624.9,294.7 624.9,286.1 669.4,286.1 669.4,294.7" fill="none" stroke="#000" stroke-width="1.7" stroke-linejoin="miter" />
<text x="647.2" y="283.8" font-size="14" text-anchor="middle" font-weight="normal" font-style="normal" fill="#000" >ns</text>
<text x="624.3" y="472.5" font-size="14" text-anchor="middle" font-weight="normal" font-style="italic" fill="#000" >db/Ctrl</text>
<text x="673" y="472.5" font-size="14" text-anchor="middle" font-weight="normal" font-style="italic" fill="#000" >db/db</text>
<text x="554.8" y="364.3" font-size="14" text-anchor="middle" font-weight="normal" font-style="normal" fill="#000" transform="rotate(-90 554.8 364.3)" ><tspan font-style="italic">ApoE</tspan> mRNA level</text>
<text x="16.5" y="511.2" font-size="22" text-anchor="start" font-weight="bold" font-style="normal" fill="#000" >h</text>
<line x1="72.4" y1="524.5" x2="72.4" y2="713.2" stroke="#000" stroke-width="2" />
<line x1="64.4" y1="525.5" x2="72.4" y2="525.5" stroke="#000" stroke-width="2" />
<text x="62.9" y="530.9" font-size="15" text-anchor="end" font-weight="normal" font-style="normal" fill="#000" >800</text>
<line x1="64.4" y1="572.2" x2="72.4" y2="572.2" stroke="#000" stroke-width="2" />
<text x="62.9" y="577.6" font-size="15" text-anchor="end" font-weight="normal" font-style="normal" fill="#000" >600</text>
<line x1="64.4" y1="618.9" x2="72.4" y2="618.9" stroke="#000" stroke-width="2" />
<text x="62.9" y="624.3" font-size="15" text-anchor="end" font-weight="normal" font-style="normal" fill="#000" >400</text>
<line x1="64.4" y1="665.6" x2="72.4" y2="665.6" stroke="#000" stroke-width="2" />
<text x="62.9" y="671" font-size="15" text-anchor="end" font-weight="normal" font-style="normal" fill="#000" >200</text>
<line x1="64.4" y1="712.2" x2="72.4" y2="712.2" stroke="#000" stroke-width="2" />
<text x="62.9" y="717.6" font-size="15" text-anchor="end" font-weight="normal" font-style="normal" fill="#000" >0</text>
<line x1="64.4" y1="712.2" x2="198" y2="712.2" stroke="#000" stroke-width="2" />
<line x1="107.4" y1="712.2" x2="107.4" y2="720.2" stroke="#000" stroke-width="2" />
<line x1="160.9" y1="712.2" x2="160.9" y2="720.2" stroke="#000" stroke-width="2" />
<path d="M114.7,616.4 L100.4,616.4 C100.45,617.15 100.75,619 100.7,620.9 C100.65,622.8 100.65,625.82 100.1,627.8 C99.55,629.78 98.43,631.15 97.4,632.8 C96.37,634.45 94.95,635.55 93.9,637.7 C92.85,639.85 91.18,643.38 91.1,645.7 C91.02,648.02 92.52,649.62 93.4,651.6 C94.28,653.58 95.65,655.28 96.4,657.6 C97.15,659.92 97.9,663.03 97.9,665.5 C97.9,667.97 97.07,670.25 96.4,672.4 C95.73,674.55 94.43,676.58 93.9,678.4 C93.37,680.22 93.32,682.48 93.2,683.3 L122.5,683.3 C122.28,682.48 121.83,680.22 121.2,678.4 C120.57,676.58 119.42,674.55 118.7,672.4 C117.98,670.25 116.9,667.97 116.9,665.5 C116.9,663.03 117.9,659.92 118.7,657.6 C119.5,655.28 120.8,653.58 121.7,651.6 C122.6,649.62 124.18,648.02 124.1,645.7 C124.02,643.38 122.18,639.85 121.2,637.7 C120.22,635.55 119.2,634.45 118.2,632.8 C117.2,631.15 115.82,629.78 115.2,627.8 C114.58,625.82 114.58,622.8 114.5,620.9 C114.42,619 114.67,617.15 114.7,616.4 Z" fill="#fff" stroke="#000" stroke-width="2" stroke-linejoin="round"/>
<line x1="99" y1="636.2" x2="117.7" y2="636.2" stroke="#000" stroke-width="1.2" stroke-dasharray="1.2,2" opacity="0.85"/>
<line x1="93.2" y1="651.6" x2="122" y2="651.6" stroke="#000" stroke-width="1.4" stroke-dasharray="2.4,1.8" opacity="1"/>
<circle cx="107.6" cy="616.1" r="2.6" fill="#fff" stroke="#000" stroke-width="2"/>
<circle cx="103.6" cy="642.7" r="2.6" fill="#fff" stroke="#000" stroke-width="2"/>
<circle cx="111" cy="645.5" r="2.6" fill="#fff" stroke="#000" stroke-width="2"/>
<circle cx="107.6" cy="658.3" r="2.6" fill="#fff" stroke="#000" stroke-width="2"/>
<circle cx="103.8" cy="681.3" r="2.6" fill="#fff" stroke="#000" stroke-width="2"/>
<circle cx="111" cy="683.3" r="2.6" fill="#fff" stroke="#000" stroke-width="2"/>
<path d="M166.3,536.8 L155.6,536.8 C155.6,539.32 155.53,545.38 155.6,551.9 C155.67,558.42 155.83,570.38 156,575.9 C156.17,581.42 156.42,581.97 156.6,585 C156.78,588.03 157.25,591.08 157.1,594.1 C156.95,597.12 156.47,600.08 155.7,603.1 C154.93,606.12 153.63,609.17 152.5,612.2 C151.37,615.23 149.98,618.27 148.9,621.3 C147.82,624.33 146.68,627.38 146,630.4 C145.32,633.42 144.9,636.33 144.8,639.4 C144.7,642.47 145.3,647.23 145.4,648.8 L176.6,648.8 C176.7,647.23 177.28,642.47 177.2,639.4 C177.12,636.33 176.82,633.42 176.1,630.4 C175.38,627.38 174.03,624.33 172.9,621.3 C171.77,618.27 170.43,615.23 169.3,612.2 C168.17,609.17 166.85,606.12 166.1,603.1 C165.35,600.08 164.95,597.12 164.8,594.1 C164.65,591.08 165,588.03 165.2,585 C165.4,581.97 165.82,581.42 166,575.9 C166.18,570.38 166.25,558.42 166.3,551.9 C166.35,545.38 166.3,539.32 166.3,536.8 Z" fill="#F6C187" stroke="#000" stroke-width="2" stroke-linejoin="round"/>
<line x1="156" y1="563.1" x2="166" y2="563.1" stroke="#000" stroke-width="1.2" stroke-dasharray="1.2,2" opacity="0.85"/>
<line x1="146" y1="630.9" x2="177" y2="630.9" stroke="#000" stroke-width="1.4" stroke-dasharray="2.4,1.8" opacity="1"/>
<line x1="145" y1="644.5" x2="177" y2="644.5" stroke="#000" stroke-width="1.2" stroke-dasharray="1.2,2" opacity="0.85"/>
<circle cx="160.7" cy="537.3" r="2.6" fill="#F6C187" stroke="#000" stroke-width="2"/>
<circle cx="160.7" cy="571.9" r="2.6" fill="#F6C187" stroke="#000" stroke-width="2"/>
<circle cx="160.7" cy="620.9" r="2.6" fill="#F6C187" stroke="#000" stroke-width="2"/>
<circle cx="149.3" cy="641.3" r="2.6" fill="#F6C187" stroke="#000" stroke-width="2"/>
<circle cx="160.7" cy="643.2" r="2.6" fill="#F6C187" stroke="#000" stroke-width="2"/>
<circle cx="172.7" cy="649.3" r="2.6" fill="#F6C187" stroke="#000" stroke-width="2"/>
<polyline points="108.6,531.25 108.6,522 160,522 160,531.25" fill="none" stroke="#000" stroke-width="2" stroke-linejoin="miter" />
<text x="135.6" y="516.25" font-size="15" text-anchor="middle" font-weight="normal" font-style="italic" fill="#000" >p=0.066</text>
<text x="11.8" y="619" font-size="15" text-anchor="middle" font-weight="normal" font-style="normal" fill="#000" transform="rotate(-90 11.8 619)" ><tspan font-style="italic">ApoE</tspan> mRNA expression</text>
<text x="28.3" y="617.6" font-size="15" text-anchor="middle" font-weight="normal" font-style="normal" fill="#000" transform="rotate(-90 28.3 617.6)" >in CD14<tspan font-size="10" dy="-6">+</tspan><tspan dy="6"> cells of VAT</tspan></text>
<text x="113" y="732" font-size="15.3" text-anchor="end" font-weight="normal" font-style="normal" fill="#000" transform="rotate(-45 113 732)" >Obese non-diabetic</text>
<text x="166.5" y="732" font-size="15.3" text-anchor="end" font-weight="normal" font-style="normal" fill="#000" transform="rotate(-45 166.5 732)" >Obese diabetic</text>
<text x="198" y="511.2" font-size="22" text-anchor="start" font-weight="bold" font-style="normal" fill="#000" >i</text>
<line x1="254.4" y1="538" x2="254.4" y2="712" stroke="#000" stroke-width="2" />
<line x1="246.9" y1="539" x2="254.4" y2="539" stroke="#000" stroke-width="2" />
<text x="245.4" y="544.04" font-size="14" text-anchor="end" font-weight="normal" font-style="normal" fill="#000" >1.5</text>
<line x1="246.9" y1="596.3" x2="254.4" y2="596.3" stroke="#000" stroke-width="2" />
<text x="245.4" y="601.34" font-size="14" text-anchor="end" font-weight="normal" font-style="normal" fill="#000" >1.0</text>
<line x1="246.9" y1="653.7" x2="254.4" y2="653.7" stroke="#000" stroke-width="2" />
<text x="245.4" y="658.74" font-size="14" text-anchor="end" font-weight="normal" font-style="normal" fill="#000" >0.5</text>
<line x1="246.9" y1="711" x2="254.4" y2="711" stroke="#000" stroke-width="2" />
<text x="245.4" y="716.04" font-size="14" text-anchor="end" font-weight="normal" font-style="normal" fill="#000" >0.0</text>
<line x1="246" y1="711" x2="371" y2="711" stroke="#000" stroke-width="2" />
<line x1="287" y1="711" x2="287" y2="718.5" stroke="#000" stroke-width="2" />
<line x1="336.25" y1="711" x2="336.25" y2="718.5" stroke="#000" stroke-width="2" />
<line x1="287.2" y1="639.2" x2="287.2" y2="661.1" stroke="#000" stroke-width="1.8" />
<line x1="278.6" y1="639.2" x2="295.7" y2="639.2" stroke="#000" stroke-width="1.8" />
<line x1="278.6" y1="661.1" x2="295.7" y2="661.1" stroke="#000" stroke-width="1.8" />
<rect x="271.5" y="646.7" width="31.6" height="8" fill="#D3D3D3" stroke="#000" stroke-width="1.8"/>
<line x1="270.5" y1="651" x2="304.3" y2="651" stroke="#000" stroke-width="1.8" />
<circle cx="287.2" cy="639.2" r="2.55" fill="#fff" stroke="#000" stroke-width="1.75"/>
<circle cx="276.5" cy="648.5" r="2.55" fill="#fff" stroke="#000" stroke-width="1.75"/>
<circle cx="287.2" cy="651.1" r="2.55" fill="#fff" stroke="#000" stroke-width="1.75"/>
<circle cx="281.8" cy="653.3" r="2.55" fill="#fff" stroke="#000" stroke-width="1.75"/>
<circle cx="298.1" cy="651.6" r="2.55" fill="#fff" stroke="#000" stroke-width="1.75"/>
<circle cx="292.6" cy="661.1" r="2.55" fill="#fff" stroke="#000" stroke-width="1.75"/>
<line x1="336.5" y1="593.2" x2="336.5" y2="598.2" stroke="#4393F2" stroke-width="1.8" />
<line x1="328" y1="598.2" x2="345" y2="598.2" stroke="#4393F2" stroke-width="1.8" />
<rect x="320.9" y="569.9" width="30.9" height="23.3" fill="none" stroke="#4393F2" stroke-width="1.8"/>
<line x1="319.5" y1="586.1" x2="353.2" y2="586.1" stroke="#4393F2" stroke-width="1.8" />
<circle cx="332.9" cy="569.6" r="2.55" fill="#fff" stroke="#4393F2" stroke-width="1.75"/>
<circle cx="339.3" cy="569.6" r="2.55" fill="#fff" stroke="#4393F2" stroke-width="1.75"/>
<circle cx="333.1" cy="584.3" r="2.55" fill="#fff" stroke="#4393F2" stroke-width="1.75"/>
<circle cx="339.3" cy="586.9" r="2.55" fill="#fff" stroke="#4393F2" stroke-width="1.75"/>
<circle cx="332.9" cy="592.2" r="2.55" fill="#fff" stroke="#4393F2" stroke-width="1.75"/>
<circle cx="339.3" cy="598.2" r="2.55" fill="#fff" stroke="#4393F2" stroke-width="1.75"/>
<polyline points="286.6,563.2 286.6,554.5 336.5,554.5 336.5,563.2" fill="none" stroke="#000" stroke-width="1.7" stroke-linejoin="miter" />
<text x="312.3" y="556.7" font-size="14" text-anchor="middle" letter-spacing="1.4" stroke="#000" stroke-width="0.35">***</text>
<text x="287" y="733" font-size="14" text-anchor="middle" font-weight="normal" font-style="normal" fill="#000" >Chow</text>
<text x="336.25" y="733" font-size="14" text-anchor="middle" font-weight="normal" font-style="normal" fill="#000" >HFD</text>
<text x="217" y="623" font-size="14" text-anchor="middle" font-weight="normal" font-style="normal" fill="#000" transform="rotate(-90 217 623)" >Plasma LPS (EU/mL)</text>
<text x="365" y="511.6" font-size="22" text-anchor="start" font-weight="bold" font-style="normal" fill="#000" >j</text>
<line x1="425.25" y1="537.75" x2="425.25" y2="711.2" stroke="#000" stroke-width="2" />
<line x1="417.75" y1="538.75" x2="425.25" y2="538.75" stroke="#000" stroke-width="2" />
<text x="416.25" y="543.79" font-size="14" text-anchor="end" font-weight="normal" font-style="normal" fill="#000" >1.5</text>
<line x1="417.75" y1="595.9" x2="425.25" y2="595.9" stroke="#000" stroke-width="2" />
<text x="416.25" y="600.94" font-size="14" text-anchor="end" font-weight="normal" font-style="normal" fill="#000" >1.0</text>
<line x1="417.75" y1="653" x2="425.25" y2="653" stroke="#000" stroke-width="2" />
<text x="416.25" y="658.04" font-size="14" text-anchor="end" font-weight="normal" font-style="normal" fill="#000" >0.5</text>
<line x1="417.75" y1="710.2" x2="425.25" y2="710.2" stroke="#000" stroke-width="2" />
<text x="416.25" y="715.24" font-size="14" text-anchor="end" font-weight="normal" font-style="normal" fill="#000" >0.0</text>
<rect x="442.5" y="595.5" width="31.1" height="114.7" fill="#D3D3D3" stroke="#000" stroke-width="2"/>
<rect x="491.5" y="657.5" width="31.75" height="52.7" fill="#E9C8F6" stroke="#000" stroke-width="2"/>
<line x1="417.75" y1="710.2" x2="541.2" y2="710.2" stroke="#000" stroke-width="2" />
<line x1="458.25" y1="710.2" x2="458.25" y2="717.7" stroke="#000" stroke-width="2" />
<line x1="507" y1="710.2" x2="507" y2="717.7" stroke="#000" stroke-width="2" />
<circle cx="458.25" cy="573.75" r="2.65" fill="#fff" stroke="#000" stroke-width="1.75"/>
<circle cx="455.25" cy="605" r="2.65" fill="#fff" stroke="#000" stroke-width="1.75"/>
<circle cx="461.5" cy="606.25" r="2.65" fill="#fff" stroke="#000" stroke-width="1.75"/>
<circle cx="507" cy="652" r="2.65" fill="#E9C8F6" stroke="#000" stroke-width="1.75"/>
<circle cx="503.25" cy="656.25" r="2.65" fill="#E9C8F6" stroke="#000" stroke-width="1.75"/>
<circle cx="510" cy="662.5" r="2.65" fill="#E9C8F6" stroke="#000" stroke-width="1.75"/>
<line x1="458.25" y1="584.25" x2="458.25" y2="606.75" stroke="#000" stroke-width="1.3" />
<line x1="454.25" y1="584.25" x2="462.25" y2="584.25" stroke="#000" stroke-width="1.3" />
<line x1="454.25" y1="606.75" x2="462.25" y2="606.75" stroke="#000" stroke-width="1.3" />
<line x1="507" y1="655" x2="507" y2="660" stroke="#000" stroke-width="1.3" />
<line x1="503" y1="655" x2="511" y2="655" stroke="#000" stroke-width="1.3" />
<line x1="503" y1="660" x2="511" y2="660" stroke="#000" stroke-width="1.3" />
<polyline points="458.25,568.75 458.25,560 503.75,560 503.75,568.75" fill="none" stroke="#000" stroke-width="1.7" stroke-linejoin="miter" />
<text x="481.3" y="563.6" font-size="18" text-anchor="middle" letter-spacing="1.3" stroke="#000" stroke-width="0.35">**</text>
<text x="458.25" y="732.6" font-size="14" text-anchor="middle" font-weight="normal" font-style="normal" fill="#000" >Ctrl</text>
<text x="507" y="732.6" font-size="14" text-anchor="middle" font-weight="normal" font-style="normal" fill="#000" >LPS</text>
<text x="388.25" y="622.5" font-size="14" text-anchor="middle" font-weight="normal" font-style="normal" fill="#000" transform="rotate(-90 388.25 622.5)" >PM <tspan font-style="italic">ApoE</tspan> mRNA level</text>
<text x="525.5" y="511.9" font-size="22" text-anchor="start" font-weight="bold" font-style="normal" fill="#000" >k</text>
<line x1="590.4" y1="536.1" x2="590.4" y2="711.1" stroke="#000" stroke-width="2" />
<line x1="582.9" y1="537.1" x2="590.4" y2="537.1" stroke="#000" stroke-width="2" />
<text x="581.4" y="542.14" font-size="14" text-anchor="end" font-weight="normal" font-style="normal" fill="#000" >1.2</text>
<line x1="582.9" y1="586.9" x2="590.4" y2="586.9" stroke="#000" stroke-width="2" />
<text x="581.4" y="591.94" font-size="14" text-anchor="end" font-weight="normal" font-style="normal" fill="#000" >1.0</text>
<line x1="582.9" y1="636.6" x2="590.4" y2="636.6" stroke="#000" stroke-width="2" />
<text x="581.4" y="641.64" font-size="14" text-anchor="end" font-weight="normal" font-style="normal" fill="#000" >0.8</text>
<line x1="582.9" y1="686.2" x2="590.4" y2="686.2" stroke="#000" stroke-width="2" />
<text x="581.4" y="691.24" font-size="14" text-anchor="end" font-weight="normal" font-style="normal" fill="#000" >0.6</text>
<rect x="607.8" y="587.6" width="31.3" height="122.5" fill="#D3D3D3" stroke="#000" stroke-width="2"/>
<rect x="656.5" y="650" width="31.4" height="60.1" fill="#E9C8F6" stroke="#000" stroke-width="2"/>
<line x1="589.4" y1="710.1" x2="705.9" y2="710.1" stroke="#000" stroke-width="2" />
<line x1="623.3" y1="710.1" x2="623.3" y2="717.6" stroke="#000" stroke-width="2" />
<line x1="671.9" y1="710.1" x2="671.9" y2="717.6" stroke="#000" stroke-width="2" />
<circle cx="623.6" cy="565" r="2.65" fill="#fff" stroke="#000" stroke-width="1.75"/>
<circle cx="623.6" cy="583" r="2.65" fill="#fff" stroke="#000" stroke-width="1.75"/>
<circle cx="623.6" cy="610.1" r="2.65" fill="#fff" stroke="#000" stroke-width="1.75"/>
<circle cx="671.9" cy="633.2" r="2.65" fill="#E9C8F6" stroke="#000" stroke-width="1.75"/>
<circle cx="668.2" cy="655.2" r="2.65" fill="#E9C8F6" stroke="#000" stroke-width="1.75"/>
<circle cx="676.1" cy="657.9" r="2.65" fill="#E9C8F6" stroke="#000" stroke-width="1.75"/>
<line x1="623.6" y1="573.5" x2="623.6" y2="600" stroke="#000" stroke-width="1.3" />
<line x1="619.6" y1="573.5" x2="627.6" y2="573.5" stroke="#000" stroke-width="1.3" />
<line x1="619.6" y1="600" x2="627.6" y2="600" stroke="#000" stroke-width="1.3" />
<line x1="671.9" y1="641.2" x2="671.9" y2="657" stroke="#000" stroke-width="1.3" />
<line x1="667.9" y1="641.2" x2="675.9" y2="641.2" stroke="#000" stroke-width="1.3" />
<line x1="667.9" y1="657" x2="675.9" y2="657" stroke="#000" stroke-width="1.3" />
<polyline points="623.6,559.7 623.6,550.9 669.2,550.9 669.2,559.7" fill="none" stroke="#000" stroke-width="1.7" stroke-linejoin="miter" />
<text x="645.1" y="555" font-size="19" text-anchor="middle" letter-spacing="0" stroke="#000" stroke-width="0.35">*</text>
<text x="623.3" y="732.4" font-size="14" text-anchor="middle" font-weight="normal" font-style="normal" fill="#000" >Ctrl</text>
<text x="671.9" y="732.4" font-size="14" text-anchor="middle" font-weight="normal" font-style="normal" fill="#000" >LPS</text>
<text x="554" y="622.5" font-size="14" text-anchor="middle" font-weight="normal" font-style="normal" fill="#000" transform="rotate(-90 554 622.5)" >BMDM <tspan font-style="italic">ApoE</tspan> mRNA level</text>
</svg></body></html>
